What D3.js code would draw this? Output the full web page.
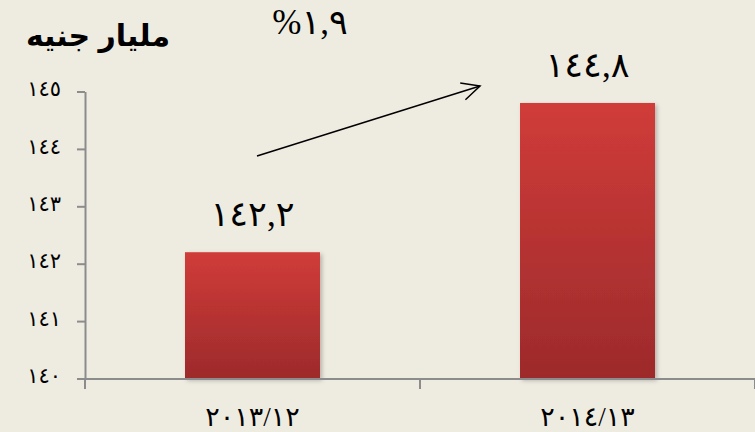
<!DOCTYPE html>
<html><head><meta charset="utf-8">
<script src="https://cdn.jsdelivr.net/npm/d3@7/dist/d3.min.js"></script>
<style>
html,body{margin:0;padding:0;background:#EEEBE1;}
svg{display:block;}
text{font-family:"Times New Roman","Liberation Serif","DejaVu Sans",serif;fill:#000;}
</style></head>
<body>
<svg id="chart" width="755" height="432"></svg>
<script>
const categories = ["٢٠١٣/١٢", "٢٠١٤/١٣"];
const values = [142.2, 144.8];
const valueLabels = ["١٤٢,٢", "١٤٤,٨"];
const yTicks = [140, 141, 142, 143, 144, 145];
const unitLabel = "مليار جنيه";
const growthLabel = "%١,٩";

const toArabicDigits = s => String(s).replace(/\d/g, d => "٠١٢٣٤٥٦٧٨٩"[+d]);

const W = 755, H = 432;
const svg = d3.select("#chart");
svg.append("rect").attr("width", W).attr("height", H).attr("fill", "#EEEBE1");

const defs = svg.append("defs");
const grad = defs.append("linearGradient").attr("id", "barGrad")
  .attr("x1", 0).attr("y1", 0).attr("x2", 0).attr("y2", 1);
grad.append("stop").attr("offset", "0%").attr("stop-color", "#D03C39");
grad.append("stop").attr("offset", "100%").attr("stop-color", "#9D2A2B");
const f = defs.append("filter").attr("id", "shadow").attr("x", "-10%").attr("y", "-10%").attr("width", "130%").attr("height", "130%");
f.append("feDropShadow").attr("dx", 2).attr("dy", 2).attr("stdDeviation", 2).attr("flood-color", "#000").attr("flood-opacity", 0.25);

const x = d3.scaleBand().domain(categories).range([85, 755]).paddingInner(0.597).paddingOuter(0.2985);
const y = d3.scaleLinear().domain([140, 145]).range([378.5, 91.5]);

// bars
svg.append("g").selectAll("rect").data(values).join("rect")
  .attr("x", (d, i) => x(categories[i]))
  .attr("width", x.bandwidth())
  .attr("y", d => y(d))
  .attr("height", d => y(140) - y(d))
  .attr("fill", "url(#barGrad)")
  .attr("filter", "url(#shadow)");

// y axis
const yAxis = svg.append("g").attr("transform", "translate(85,0)")
  .call(d3.axisLeft(y).tickValues(yTicks).tickSize(8).tickSizeOuter(0).tickPadding(16).tickFormat(toArabicDigits));
yAxis.select(".domain").attr("stroke", "#8c8c8c").attr("stroke-width", 2);
yAxis.selectAll(".tick line").attr("stroke", "#8c8c8c").attr("stroke-width", 2);
yAxis.selectAll(".tick text").attr("font-size", 21).attr("font-family", null)
  .attr("letter-spacing", 4).attr("dy", "0.2em").attr("direction", "ltr").attr("unicode-bidi", "bidi-override");

// x axis
const xAxis = svg.append("g").attr("transform", "translate(0,378.5)")
  .call(d3.axisBottom(x).tickSize(0).tickSizeOuter(0).tickPadding(28).tickFormat(d => d));
xAxis.select(".domain").attr("stroke", "#8c8c8c").attr("stroke-width", 2);
xAxis.selectAll(".tick text").attr("font-size", 27).attr("font-family", null)
  .attr("letter-spacing", 5).attr("direction", "ltr").attr("unicode-bidi", "bidi-override");
// x boundary ticks between categories
const bounds = [x.range()[0], x(categories[1]) - x.step() * x.paddingInner() / 2, x.range()[1]];
svg.append("g").selectAll("line").data(bounds).join("line")
  .attr("x1", d => d).attr("x2", d => d).attr("y1", 378.5).attr("y2", 389)
  .attr("stroke", "#8c8c8c").attr("stroke-width", 2);

// value labels
svg.append("g").selectAll("text").data(values).join("text")
  .attr("x", (d, i) => x(categories[i]) + x.bandwidth() / 2)
  .attr("y", d => y(d) - 26)
  .attr("text-anchor", "middle")
  .attr("font-size", 35)
  .attr("letter-spacing", 6)
  .attr("direction", "ltr").attr("unicode-bidi", "bidi-override")
  .text((d, i) => valueLabels[i]);

// unit label
svg.append("text").attr("x", 98).attr("y", 46).attr("text-anchor", "middle")
  .attr("font-size", 30).attr("font-weight", "bold")
  .style("font-family", "'Liberation Sans', Arial, 'DejaVu Sans', sans-serif")
  .text(unitLabel);

// growth label
svg.append("text").attr("x", 310).attr("y", 34).attr("text-anchor", "middle")
  .attr("font-size", 35).attr("letter-spacing", 3)
  .attr("direction", "ltr").attr("unicode-bidi", "bidi-override")
  .text(growthLabel);

// arrow
const x0 = 257, y0 = 156, x1 = 480, y1 = 86;
svg.append("line").attr("x1", x0).attr("y1", y0).attr("x2", x1).attr("y2", y1)
  .attr("stroke", "#000").attr("stroke-width", 1.5);
const ang = Math.atan2(y1 - y0, x1 - x0), L = 20, spread = 0.45;
svg.append("path")
  .attr("d", `M${x1 - L * Math.cos(ang - spread)},${y1 - L * Math.sin(ang - spread)} L${x1},${y1} L${x1 - L * Math.cos(ang + spread)},${y1 - L * Math.sin(ang + spread)}`)
  .attr("fill", "none").attr("stroke", "#000").attr("stroke-width", 1.5);
</script>
</body></html>
